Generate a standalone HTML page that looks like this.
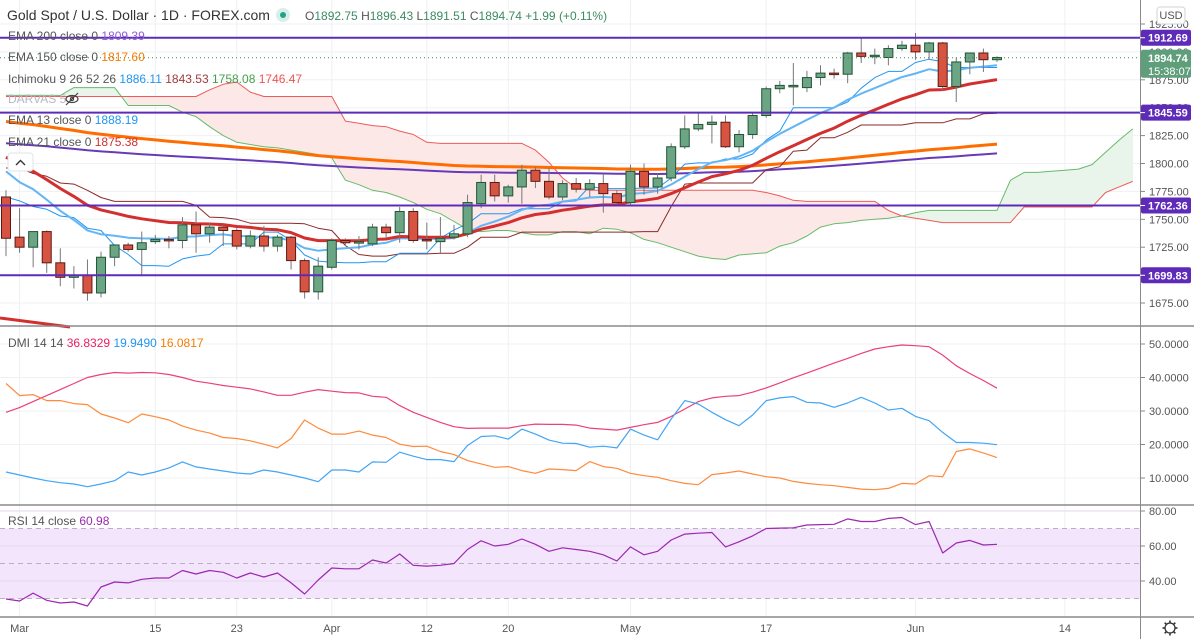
<!DOCTYPE html>
<html><head><meta charset="utf-8"><style>
html,body{margin:0;padding:0;background:#fff;}
svg{display:block;font-family:"Liberation Sans",sans-serif;}
</style></head><body>
<svg id="chart" width="1194" height="639" viewBox="0 0 1194 639" xmlns="http://www.w3.org/2000/svg">
<g id="grid"></g>
<g id="cloud"></g>
<g id="lines"></g>
<g id="candles"></g>
<g id="levels"></g>
<g id="dmi"></g>
<g id="rsi"></g>
<g id="axes"></g>
<g id="legend" font-size="12">
  <text x="7" y="20" font-size="14" fill="#333">Gold Spot / U.S. Dollar · 1D · FOREX.com</text>
  <circle cx="283" cy="15" r="7" fill="#d8efe9"/>
  <circle cx="283" cy="15" r="3" fill="#22a28a"/>
  <text x="305" y="20" fill="#3d8a63"><tspan fill="#555">O</tspan>1892.75 <tspan fill="#555">H</tspan>1896.43 <tspan fill="#555">L</tspan>1891.51 <tspan fill="#555">C</tspan>1894.74 +1.99 (+0.11%)</text>
  <text x="8" y="40" fill="#555">EMA 200 close 0 <tspan fill="#8e5ed6">1809.39</tspan></text>
  <text x="8" y="61" fill="#555">EMA 150 close 0 <tspan fill="#f57c00">1817.60</tspan></text>
  <text x="8" y="83" fill="#555">Ichimoku 9 26 52 26 <tspan fill="#2196f3">1886.11</tspan> <tspan fill="#a13c3c">1843.53</tspan> <tspan fill="#43a047">1758.08</tspan> <tspan fill="#ef5350">1746.47</tspan></text>
  <text x="8" y="103" fill="#b5b8c0">DARVAS 5</text>
  <g stroke="#444" fill="none" stroke-width="1.2"><ellipse cx="72" cy="99" rx="6" ry="3.5"/><circle cx="72" cy="99" r="1.6"/><line x1="66" y1="105" x2="78" y2="93"/></g>
  <text x="8" y="124" fill="#555">EMA 13 close 0 <tspan fill="#2196f3">1888.19</tspan></text>
  <text x="8" y="146" fill="#555">EMA 21 close 0 <tspan fill="#d32f2f">1875.38</tspan></text>
  <g><rect x="8" y="153" width="25" height="18" rx="3" fill="#fff" stroke="#e0e3eb"/><path d="M16 165 L20.5 160.5 L25 165" stroke="#333" fill="none" stroke-width="1.4"/></g>
  <text x="8" y="347" fill="#555">DMI 14 14 <tspan fill="#e91e63">36.8329</tspan> <tspan fill="#2196f3">19.9490</tspan> <tspan fill="#f57c00">16.0817</tspan></text>
  <text x="8" y="525" fill="#555">RSI 14 close <tspan fill="#9c27b0">60.98</tspan></text>
</g>
</svg>
<script>
// ---------- DATA ----------
const openP = [1770,1734,1725,1739,1711,1698,1700,1684,1716,1727,1723,1730,1732,1731,1745,1737,1743,1740,1726,1735,1726,1734,1713,1685,1707,1731,1729,1728,1743,1738,1757,1732,1730,1734,1737,1764,1783,1771,1779,1794,1784,1770,1782,1777,1782,1773,1765,1793,1779,1787,1815,1831,1835,1837,1815,1826,1843,1867,1869,1868,1877,1881,1880,1899,1896,1895,1903,1906,1900,1908,1869,1891,1899,1893];
const highP = [1776,1760,1739,1740,1724,1708,1714,1721,1727,1729,1739,1736,1735,1752,1757,1747,1745,1742,1740,1744,1736,1735,1715,1716,1733,1733,1735,1746,1746,1761,1760,1747,1752,1745,1772,1790,1790,1781,1799,1797,1796,1785,1787,1786,1791,1776,1799,1800,1791,1818,1843,1845,1843,1843,1830,1845,1869,1874,1890,1883,1888,1885,1900,1913,1903,1906,1910,1917,1909,1909,1895,1899,1903,1896];
const lowP = [1717,1720,1707,1702,1690,1688,1677,1680,1708,1721,1699,1728,1724,1724,1720,1729,1726,1723,1724,1721,1721,1705,1679,1678,1705,1726,1723,1726,1733,1729,1729,1723,1720,1732,1734,1760,1766,1765,1764,1778,1768,1767,1774,1770,1756,1763,1763,1772,1773,1784,1813,1829,1818,1814,1810,1822,1841,1863,1852,1864,1870,1876,1872,1890,1889,1888,1901,1893,1893,1865,1855,1880,1882,1891];
const closeP = [1733,1725,1739,1711,1698,1700,1684,1716,1727,1723,1729,1732,1731,1745,1737,1743,1740,1726,1735,1726,1734,1713,1685,1708,1731,1729,1730,1743,1738,1757,1731,1731,1733,1737,1765,1783,1771,1779,1794,1784,1770,1782,1777,1782,1773,1765,1793,1779,1787,1815,1831,1835,1837,1815,1826,1843,1867,1870,1870,1877,1881,1880,1899,1896,1897,1903,1906,1900,1908,1869,1891,1899,1893,1895];
// prior February history (for Ichimoku windows)
const priorHigh = [1875,1866,1867,1860,1853,1848,1875,1875,1862,1845,1836,1816,1835,1844,1855,1848,1827,1826,1823,1799,1787,1789,1816,1815,1807,1803];
const priorLow  = [1859,1838,1848,1844,1832,1830,1834,1851,1832,1829,1785,1791,1810,1828,1834,1822,1808,1814,1792,1775,1761,1770,1775,1797,1782,1767];
const emaSeed = {e13:1803, e21:1813, e150:1839, e200:1819};
// Ichimoku leading spans (already displaced), index 0..83
const spanA = [1861,1861,1861,1861,1861,1868,1868,1868,1868,1852,1852,1852,1852,1846,1842,1833,1825,1819,1817,1815,1814,1812,1810,1808,1805,1785,1781,1776,1774,1770,1765,1759,1755,1748,1741,1739,1740,1740,1738,1736,1736,1739,1739,1737,1742,1741,1738,1732,1729,1725,1721,1717,1715,1714,1718,1719,1720,1726,1729,1735,1743,1746,1747,1749,1750,1751,1753,1756,1758,1758,1758,1758,1758,1758,1785,1792,1792,1793,1794,1795,1799,1810,1821,1831];
const spanB = [1860,1860,1860,1860,1860,1860,1860,1860,1860,1860,1860,1860,1860,1860,1860,1866,1871,1873,1864,1860,1860,1860,1860,1860,1860,1838,1836,1834,1833,1829,1826,1819,1818,1818,1818,1818,1818,1818,1818,1812,1801,1787,1778,1776,1776,1776,1776,1776,1776,1776,1776,1776,1776,1776,1776,1776,1774,1771,1767,1766,1766,1766,1766,1766,1766,1758,1753,1751,1749,1747,1747,1747,1747,1747,1747,1761,1761,1761,1761,1761,1761,1774,1779,1784];
const adx = [29.6,31.0,32.8,34.6,36.4,38.2,40.0,40.9,41.5,41.3,41.5,41.4,40.9,40.0,38.9,38.3,37.6,37.1,36.6,35.7,34.7,34.7,35.6,36.4,35.9,35.5,35.4,34.4,34.1,31.6,29.6,28.1,26.6,25.3,24.8,24.9,24.9,24.9,25.6,26.1,26.0,26.0,25.8,24.9,24.6,24.3,25.1,25.9,26.6,28.4,30.6,32.8,33.9,34.4,34.6,35.6,36.9,38.4,39.9,41.3,42.8,44.3,45.7,47.2,48.5,49.2,49.7,49.5,49.2,46.7,43.5,41.2,39.1,36.8];
const plusDI = [11.8,10.9,10.0,9.2,8.6,8.2,7.4,8.2,9.2,11.8,10.9,11.8,13.0,14.8,13.3,12.7,12.1,11.5,11.2,12.4,11.8,10.9,10.0,8.9,12.4,12.4,11.8,14.8,14.7,17.7,16.5,15.5,15.5,14.9,19.7,22.4,22.6,21.6,24.6,23.1,21.3,20.4,20.3,19.2,19.5,19.0,24.6,22.8,21.4,27.6,33.1,32.1,29.6,27.4,25.6,28.8,33.1,33.9,34.3,32.6,32.4,31.1,32.4,34.1,32.4,30.3,30.8,28.4,27.1,23.6,20.6,20.6,20.4,19.95];
const minusDI = [38.2,34.6,34.9,33.1,33.1,32.2,31.9,29.1,27.9,26.5,29.1,28.3,27.3,25.5,24.3,23.4,22.1,21.8,21.1,20.1,19.0,21.8,27.3,24.9,23.1,23.1,24.0,22.8,22.1,20.1,19.4,19.5,17.9,17.0,15.2,14.2,13.2,13.4,12.2,11.4,12.7,12.5,12.2,14.9,13.4,12.9,11.4,10.7,10.2,9.2,8.4,8.0,11.0,11.5,12.1,11.2,10.4,10.0,9.0,8.4,8.0,7.7,7.2,6.7,6.5,6.9,8.4,8.2,10.7,10.4,17.9,18.7,17.5,16.08];
const rsiVals = [29.7,28.6,33.1,29,27.4,28,25.7,36.6,39.4,38.9,41,41.7,41.7,46,44,46,45,41.7,44.6,42.3,44.6,38.9,32.6,40.6,47.4,47,47,52,50.3,55.4,49,48.5,49,50,58,63,60,61,64,61,57,59,58,57,55,51.4,59.5,55,57,63.4,66.8,67.3,67.7,59.5,62.4,65.8,70,70.2,70.4,72,72.2,72.4,75.5,74,74,75.8,76.3,72.2,74,56,61.7,63.2,60.6,60.98];
const priceTicks = [1675,1700,1725,1750,1775,1800,1825,1850,1875,1900,1925];
const levelVals = ["1912.69","1845.59","1762.36","1699.83"];
const dmiTicks = [10,20,30,40,50];
const rsiTicks = [40,60,80];
const rsiDashed = [30,50,70];
const dateLabels = ["Mar","15","23","Apr","12","20","May","17","Jun","14"];
const dateIdx = [1,11,17,24,31,37,46,56,67,78];
const lastPrice = 1894.74;

// ---------- SCALES ----------
const NS="http://www.w3.org/2000/svg";
const xOf = i => 6 + 13.575*i;
const yP = p => 303 - (p-1675)*1.116;
const yD = v => 478 - (v-10)*3.35;
const yR = v => 511 + (80-v)*1.75;
function mk(tag, attrs, parent){const e=document.createElementNS(NS,tag);for(const k in attrs)e.setAttribute(k,attrs[k]);parent.appendChild(e);return e;}
const G = id => document.getElementById(id);

// ---------- GRID ----------
const grid=G('grid');
priceTicks.forEach(t=>{const l=mk('line',{x1:0,x2:1140,y1:yP(t),y2:yP(t),stroke:'#eef0f3'},grid);

});
dmiTicks.forEach(t=>{const l=mk('line',{x1:0,x2:1140,y1:yD(t),y2:yD(t),stroke:'#eef0f3'},grid);

});
dateIdx.forEach(i=>{const l=mk('line',{x1:xOf(i),x2:xOf(i),y1:0,y2:617,stroke:'#eef0f3'},grid);

});

// ---------- CLOUD ----------
const cloud=G('cloud');
for(let i=0;i<spanA.length-1;i++){
  const up=(spanA[i]+spanA[i+1])>=(spanB[i]+spanB[i+1]);
  const pts=[[xOf(i),yP(spanA[i])],[xOf(i+1),yP(spanA[i+1])],[xOf(i+1),yP(spanB[i+1])],[xOf(i),yP(spanB[i])]].map(p=>p.join(',')).join(' ');
  const poly=mk('polygon',{points:pts,fill:up?'#e9f4ea':'#fde8e8',stroke:up?'#e9f4ea':'#fde8e8','stroke-width':0.6},cloud);
  
  
}

// ---------- INDICATORS ----------
function ema(seed,n){const a=2/(n+1);let v=seed;return closeP.map(c=>(v=v+(c-v)*a));}
const allH=priorHigh.concat(highP), allL=priorLow.concat(lowP), off=priorHigh.length;
function donch(n){return closeP.map((_,i)=>{const j=i+off;let h=-1e9,l=1e9;for(let k=Math.max(0,j-n+1);k<=j;k++){h=Math.max(h,allH[k]);l=Math.min(l,allL[k]);}return (h+l)/2;});}
const e13=ema(emaSeed.e13,13), e21=ema(emaSeed.e21,21), e150=ema(emaSeed.e150,150), e200=ema(emaSeed.e200,200);
const tenkan=donch(9), kijun=donch(26);
const lines=G('lines');
function pathOf(arr,yf){return arr.map((v,i)=>(i?'L':'M')+xOf(i).toFixed(1)+' '+yf(v).toFixed(1)).join(' ');}
function drawLine(parent,arr,yf,color,w,name){const p=mk('path',{d:pathOf(arr,yf),fill:'none',stroke:color,'stroke-width':w,'stroke-linejoin':'round'},parent);

return p;}
drawLine(lines,spanA,yP,'#66bb6a',1,'senkou-span-a');
drawLine(lines,spanB,yP,'#f05a5a',1,'senkou-span-b');
drawLine(lines,e200,yP,'#673ab7',2,'ema-200-line');
drawLine(lines,e150,yP,'#ff6d00',3,'ema-150-line');
drawLine(lines,kijun,yP,'#8b2a2a',1,'kijun-line');
drawLine(lines,tenkan,yP,'#2196f3',1,'tenkan-line');
drawLine(lines,e13,yP,'#64b5f6',2,'ema-13-line');
drawLine(lines,e21,yP,'#d32f2f',3,'ema-21-line');

// ---------- CANDLES ----------
const cg=G('candles');
closeP.forEach((c,i)=>{
  const o=openP[i],up=c>=o,x=xOf(i);
  const w=mk('line',{x1:x,x2:x,y1:yP(highP[i]),y2:yP(lowP[i]),stroke:'#77777a','stroke-width':1},cg);
  
  
  const top=yP(Math.max(o,c)),h=Math.max(1.5,Math.abs(yP(o)-yP(c)));
  const r=mk('rect',{x:x-4.5,y:top,width:9,height:h,fill:up?'#6ba583':'#d75442',stroke:up?'#225437':'#5b1a13','stroke-width':1},cg);
  
  
});
// dotted last-price line
const lp=mk('line',{x1:0,x2:1140,y1:yP(lastPrice),y2:yP(lastPrice),stroke:'#3d8a63','stroke-dasharray':'1 3'},cg);


const stub=mk('path',{d:'M0 318 L70 327',stroke:'#d32f2f','stroke-width':3,fill:'none'},cg);



// ---------- LEVELS ----------
const lv=G('levels');
levelVals.forEach(v=>{const y=yP(parseFloat(v));
  const l=mk('line',{x1:0,x2:1140,y1:y,y2:y,stroke:'#5e2bb8','stroke-width':2},lv);
  
  
});

// ---------- DMI ----------
const dg=G('dmi');
drawLine(dg,adx,yD,'#ec407a',1.2,'adx-line');
drawLine(dg,plusDI,yD,'#42a5f5',1.2,'plus-di-line');
drawLine(dg,minusDI,yD,'#ff8a3d',1.2,'minus-di-line');

// ---------- RSI ----------
const rg=G('rsi');
const band=mk('rect',{x:0,y:yR(70),width:1140,height:yR(30)-yR(70),fill:'#f3e5fc'},rg);


rsiTicks.forEach(t=>{const l=mk('line',{x1:0,x2:1140,y1:yR(t),y2:yR(t),stroke:'#e3d6ee'},rg);

});
rsiDashed.forEach(t=>{const l=mk('line',{x1:0,x2:1140,y1:yR(t),y2:yR(t),stroke:'#b8b0c0','stroke-dasharray':'5 4'},rg);

});
drawLine(rg,rsiVals,yR,'#9c27b0',1.2,'rsi-line');

// ---------- AXES ----------
const ax=G('axes');
mk('rect',{x:1141,y:0,width:53,height:639,fill:'#fff'},ax);
mk('rect',{x:0,y:618,width:1141,height:21,fill:'#fff'},ax);
[[326],[505],[617]].forEach(([y])=>{const l=mk('line',{x1:0,x2:1194,y1:y,y2:y,stroke:'#8a8a8a','stroke-width':1.5},ax);

});
const va=mk('line',{x1:1140.5,x2:1140.5,y1:0,y2:639,stroke:'#8a8a8a'},ax);


function axLabel(txt,y,name){mk('line',{x1:1140,x2:1145,y1:y,y2:y,stroke:'#888'},ax);
const t=mk('text',{x:1149,y:y+4,'font-size':11,fill:'#555'},ax);t.textContent=txt;

}
priceTicks.forEach(t=>axLabel(t.toFixed(2),yP(t),'price-tick-label'));
dmiTicks.forEach(t=>axLabel(t.toFixed(4),yD(t),'dmi-tick-label'));
rsiTicks.forEach(t=>axLabel(t.toFixed(2),yR(t),'rsi-tick-label'));
dateLabels.forEach((d,k)=>{const t=mk('text',{x:xOf(dateIdx[k]),y:632,'font-size':11,fill:'#555','text-anchor':'middle'},ax);t.textContent=d;

});
levelVals.forEach(v=>{const y=yP(parseFloat(v));
  const r=mk('rect',{x:1141,y:y-8,width:50,height:16,rx:2,fill:'#5e2bb8'},ax);
  
  
  mk('line',{x1:1140,x2:1145,y1:y,y2:y,stroke:'#fff'},ax);
  const t=mk('text',{x:1148,y:y+4,'font-size':11,'font-weight':'bold',fill:'#fff'},ax);t.textContent=v;
  
  
});
const ly=yP(lastPrice);
const lr=mk('rect',{x:1141,y:ly-8,width:50,height:28,rx:2,fill:'#5f9e7a'},ax);


const lt=mk('text',{x:1148,y:ly+4,'font-size':11,'font-weight':'bold',fill:'#fff'},ax);lt.textContent=lastPrice.toFixed(2);


const ct=mk('text',{x:1148,y:ly+17,'font-size':11,fill:'#fff'},ax);ct.textContent='15:38:07';


const ub=mk('rect',{x:1157,y:7,width:28,height:17,rx:3,fill:'#fff',stroke:'#d0d3da'},ax);


const ut=mk('text',{x:1171,y:19,'font-size':11,fill:'#555','text-anchor':'middle'},ax);ut.textContent='USD';


const gear=mk('g',{},ax);


mk('circle',{cx:1170,cy:628,r:5,fill:'none',stroke:'#333','stroke-width':1.3},gear);
for(let k=0;k<8;k++){const a=k*Math.PI/4;mk('line',{x1:1170+5*Math.cos(a),y1:628+5*Math.sin(a),x2:1170+7.5*Math.cos(a),y2:628+7.5*Math.sin(a),stroke:'#333','stroke-width':1.6},gear);}
</script>
</body></html>
